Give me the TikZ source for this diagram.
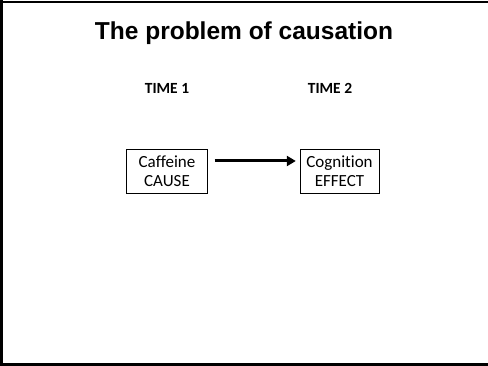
\documentclass[tikz,border=0pt]{standalone}
\usepackage{fontspec}
\setmainfont[Ligatures={NoCommon}]{Carlito}
\newfontfamily\titlefont{Liberation Sans}
\usetikzlibrary{positioning,arrows.meta}

\tikzset{
  varbox/.style={draw,thin,align=center,inner sep=2pt,minimum width=81pt,minimum height=44pt,font=\fontsize{17}{19}\selectfont},
  timelabel/.style={font=\fontsize{15.5}{18}\selectfont\bfseries}
}

\begin{document}
\begin{tikzpicture}[x=1pt,y=-1pt]
  \useasboundingbox (0,0) rectangle (488,366);
  % Slide frame
  \draw[line width=2pt] (0,2) -- (488,2);
  \draw[line width=2.5pt] (1.25,0) -- (1.25,364);
  \draw[line width=3pt] (0,364.5) -- (488,364.5);
  % Title
  \node (title) at (244,33) {\titlefont\bfseries\fontsize{24.5}{29}\selectfont The problem of causation};
  % Time labels
  \node[timelabel] (time1) at (167,88) {TIME 1};
  \node[timelabel] (time2) at (330,88) {TIME 2};
  % Boxes
  \node[varbox] (cause) at (167,171) {Caffeine\\CAUSE};
  \node[varbox,minimum width=79pt] (effect) at (339.5,171) {Cognition\\EFFECT};
  % Arrow
  \coordinate (tail) at ([xshift=7pt,yshift=10pt]cause.east);
  \coordinate (head) at ([xshift=-4pt,yshift=10pt]effect.west);
  \draw[line width=3pt,-{Triangle[length=9pt,width=10pt]}] (tail) -- (head);
\end{tikzpicture}
\end{document}
